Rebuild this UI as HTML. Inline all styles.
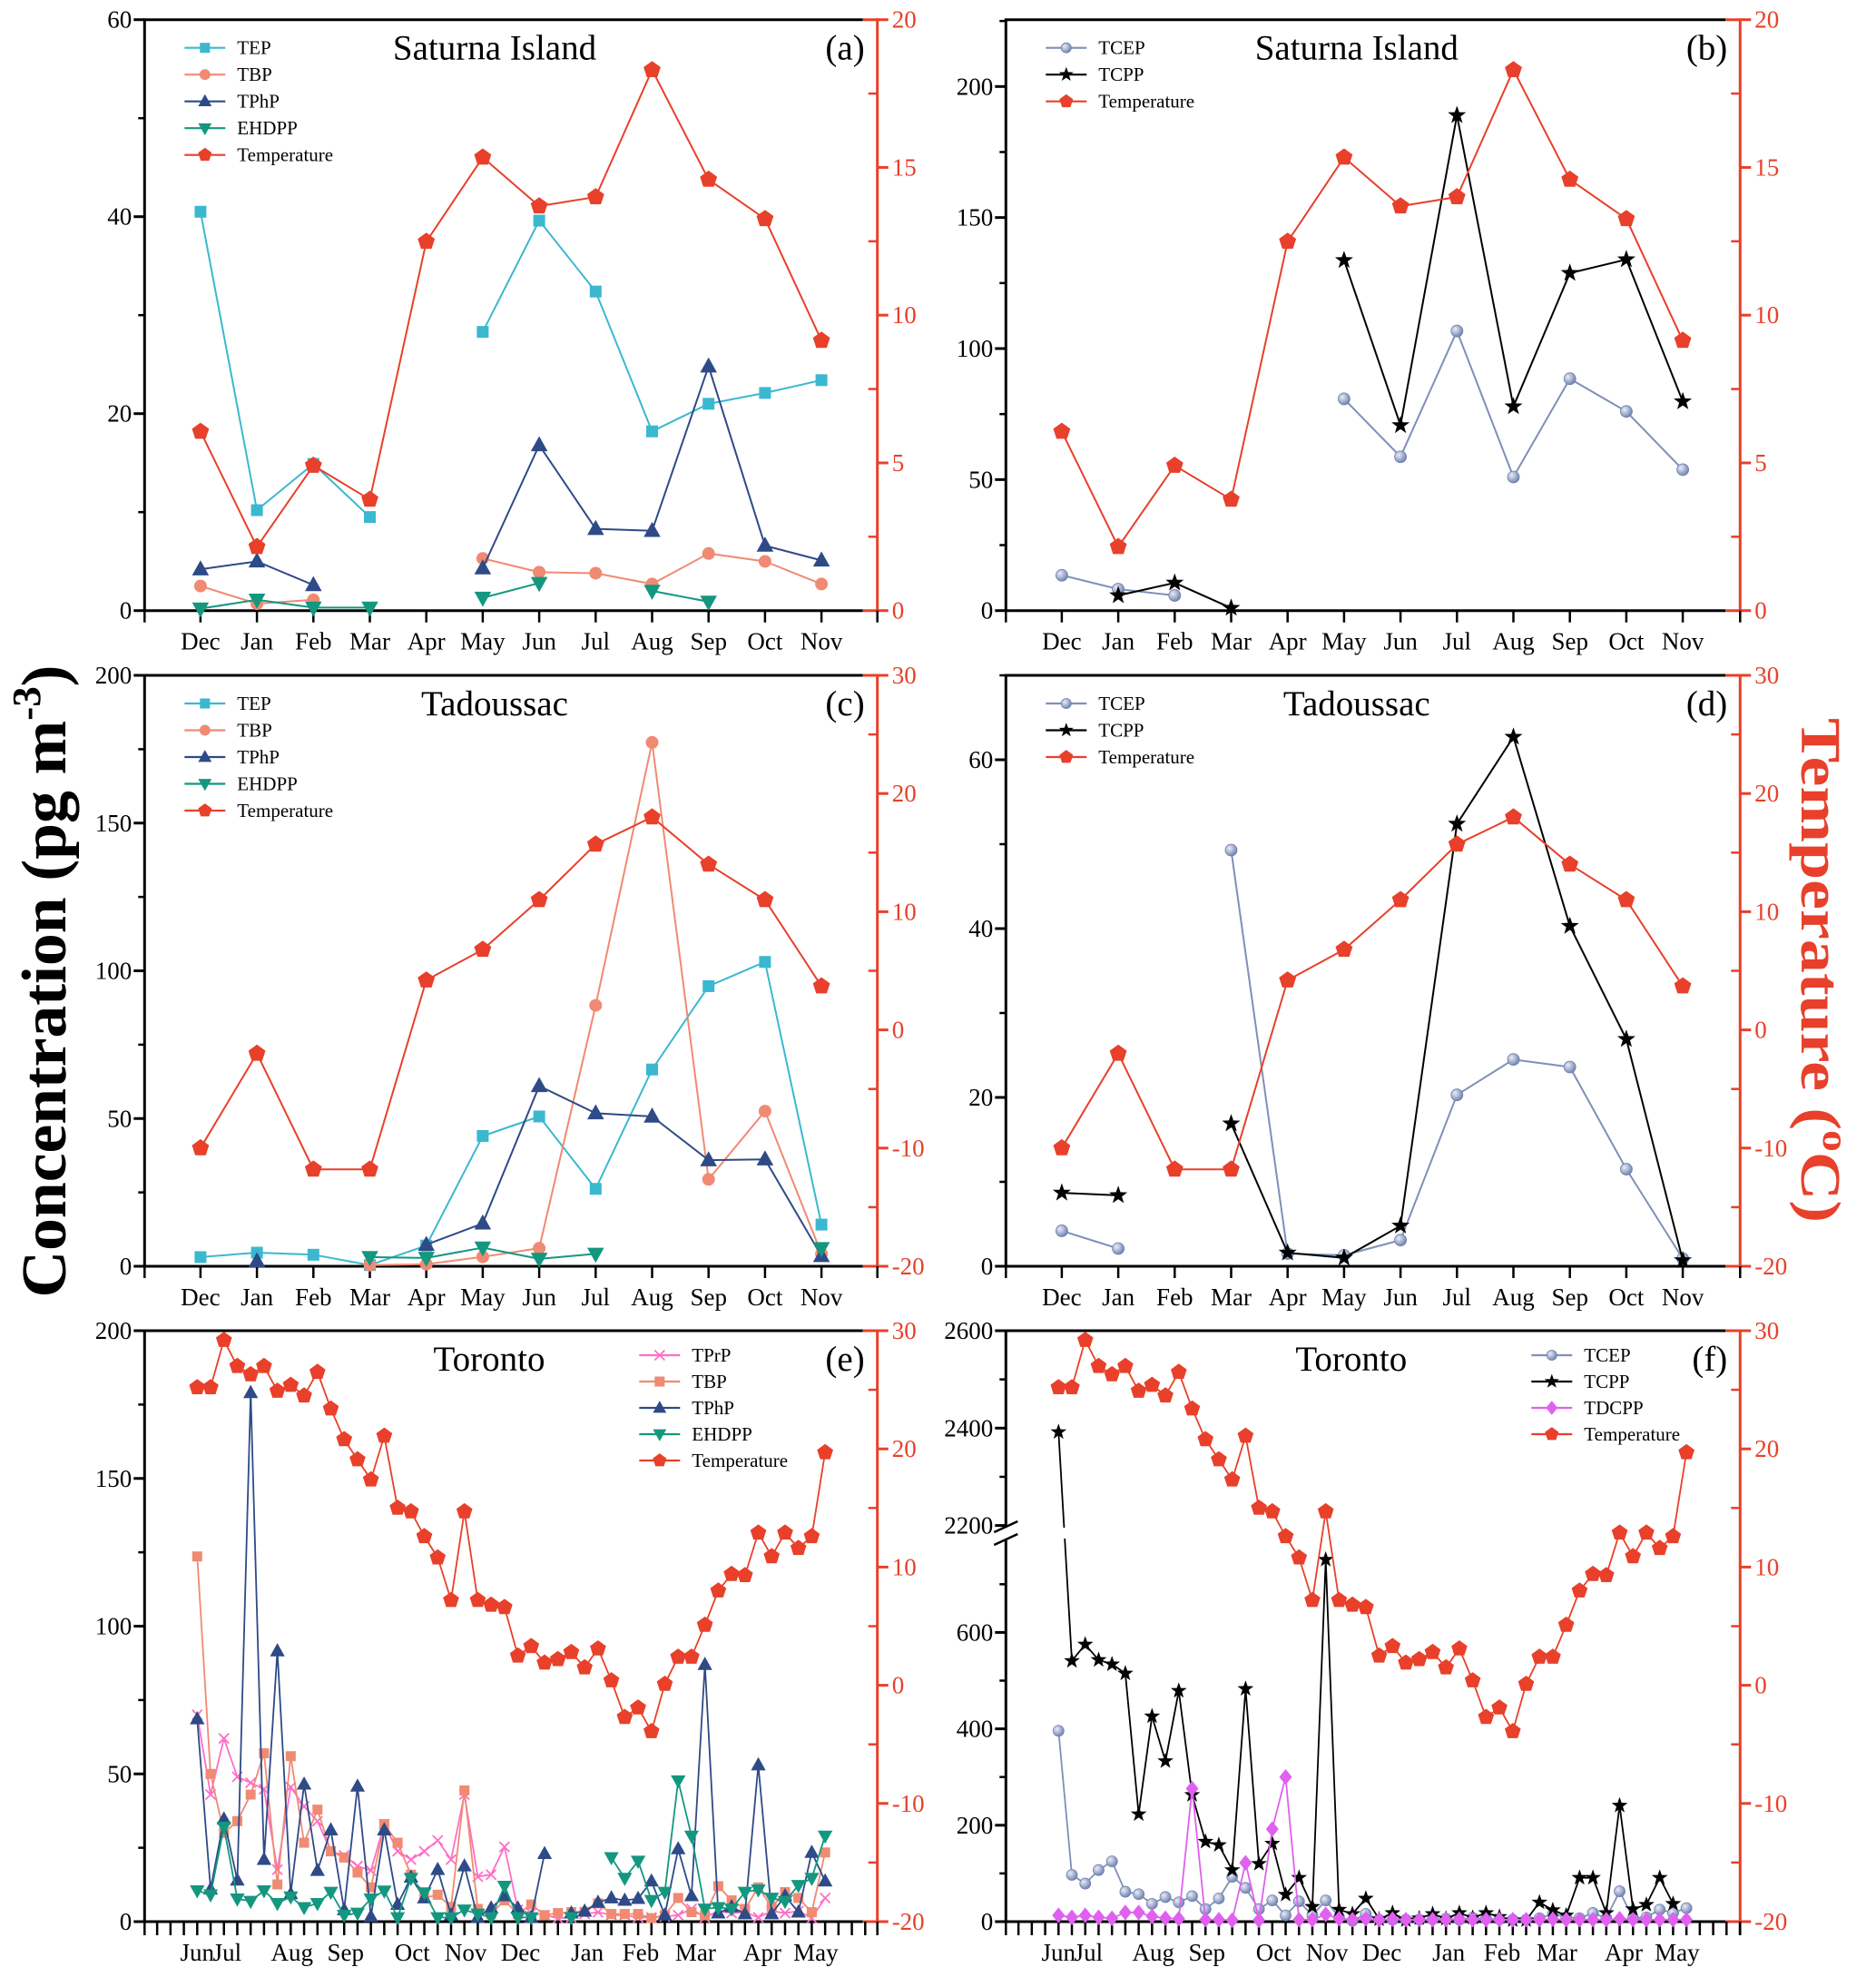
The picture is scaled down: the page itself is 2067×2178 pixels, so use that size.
<!DOCTYPE html>
<html><head><meta charset="utf-8"><style>
html,body{margin:0;padding:0;background:#fff;}
svg{display:block;}
</style></head>
<body>
<svg id="fig" xmlns="http://www.w3.org/2000/svg" width="2067" height="2178" viewBox="0 0 2067 2178">
<defs>
<radialGradient id="sph" cx="0.35" cy="0.35" r="0.7"><stop offset="0" stop-color="#e8ecf6"/><stop offset="1" stop-color="#6d7fae"/></radialGradient>
</defs>
<text x="0" y="0" transform="translate(72,1081) rotate(-90)" text-anchor="middle" font-family="Liberation Serif, serif" font-weight="bold" font-size="70" textLength="697" lengthAdjust="spacingAndGlyphs" fill="#000">Concentration (pg m<tspan font-size="44" dy="-28">-3</tspan><tspan dy="28">)</tspan></text>
<text x="0" y="0" transform="translate(1985,1069) rotate(90)" text-anchor="middle" font-family="Liberation Serif, serif" font-weight="bold" font-size="62" textLength="556" lengthAdjust="spacingAndGlyphs" fill="#e8402a">Temperature (<tspan font-size="40" dy="-24">o</tspan><tspan dy="24">C)</tspan></text>
</svg>
<script>
// ---------- data ----------
const monthCats = ["Dec","Jan","Feb","Mar","Apr","May","Jun","Jul","Aug","Sep","Oct","Nov"];
const satTEP   = [40.5,10.2,14.9,9.5,null,28.3,39.6,32.4,18.2,21.0,22.1,23.4];
const satTBP   = [2.5,0.7,1.1,null,null,5.3,3.9,3.8,2.7,5.8,5.0,2.7];
const satTPhP  = [4.2,5.0,2.6,null,null,4.3,16.8,8.3,8.1,24.8,6.6,5.1];
const satEHDPP = [0.2,1.1,0.3,0.3,null,1.3,2.8,null,2.0,0.9,null,null];
const satTemp  = [6.06,2.16,4.91,3.76,12.49,15.34,13.69,14.0,18.3,14.59,13.26,9.14];
const satTCEP  = [13.5,8.2,5.8,null,null,80.8,58.7,106.7,51.0,88.5,76.0,53.8];
const satTCPP  = [null,5.8,10.6,1.0,null,133.7,70.7,189.0,77.9,128.8,134.0,79.8];
const tadTEP   = [3.1,4.6,3.9,0.4,7.0,44.1,50.7,26.2,66.6,94.8,103.0,14.1];
const tadTBP   = [null,null,null,0.4,0.7,3.2,6.1,88.3,177.3,29.4,52.5,4.2];
const tadTPhP  = [null,1.7,null,null,7.3,14.5,61.0,51.8,50.7,35.9,36.2,3.5];
const tadEHDPP = [null,null,null,3.1,2.8,6.3,2.5,4.2,null,null,null,6.1];
const tadTemp  = [-10.0,-2.0,-11.8,-11.8,4.2,6.8,11.0,15.7,18.0,14.0,11.0,3.7];
const tadTCEP  = [4.2,2.1,null,49.3,1.5,1.3,3.1,20.3,24.5,23.6,11.5,0.9];
const tadTCPP  = [8.7,8.4,null,16.9,1.6,1.0,4.8,52.4,62.7,40.3,26.9,0.7];
const weekLabels = ["Jun","Jul","Aug","Sep","Oct","Nov","Dec","Jan","Feb","Mar","Apr","May"];
const weekLabelIdx = [0,2.25,7.1,11.1,16.1,20.1,24.2,29.2,33.2,37.3,42.3,46.3];
const torTemp = [25.2,25.2,29.2,27.0,26.3,27.0,24.9,25.4,24.5,26.5,23.4,20.8,19.1,17.4,21.1,15.0,14.7,12.6,10.8,7.2,14.7,7.2,6.8,6.6,2.5,3.3,1.9,2.2,2.8,1.5,3.1,0.4,-2.7,-1.9,-3.9,0.1,2.4,2.4,5.1,8.0,9.4,9.3,12.9,10.9,12.9,11.6,12.6,19.7];
const torTPrP = [70,43,62,49,47,44.8,17.6,45.5,39,34,23.8,22.4,18.8,17.3,33,23.8,21,23.8,27.5,21,43,15.2,15.9,25.3,4,2.9,2.2,1.2,1.4,2.6,3.2,2.2,2.2,1.4,1.4,1.7,2.2,4.3,1.4,3.6,2.9,3.2,1.4,3.6,2.9,3.6,1.2,8];
const torTBP = [123.6,50,30,34,43,57,12.6,56,26.7,37.9,23.8,21.7,16.6,11.6,33,26.7,15.9,8,9.1,5,44.4,4.3,2.6,7.2,2.6,5.8,2.2,2.9,3.2,3.3,6.2,2.6,2.6,2.6,1.2,2.2,8,3.2,2.2,12,7.2,4.3,11.6,5,10,8,3.2,23.4];
const torTPhP = [68.6,11,34.7,14,179,21,91.6,9.4,46.5,17.3,31,4,45.8,1.7,31,5.8,15,8,17.6,2.2,18.8,1.4,4.6,8.7,4.6,1.4,23,null,2.9,3.5,6.5,8,7.2,7.8,13.7,2.2,24.6,8.7,87,2.9,5,2.6,53,2.6,8.7,3.2,23.4,13.7];
const torEHDPP = [10.5,9.1,32,7.7,6.9,10.5,6.2,8.4,4.8,6.2,10,2.2,2.9,7.7,10.4,1.4,14.7,9.8,1.4,1.4,4,2.6,1.4,12,1.4,1.4,null,null,1.4,null,null,21.7,14.7,20.5,7.2,10,47.7,29,4.3,4.8,4.3,10,10.8,8,6.9,12.3,14.7,29];
const torTCEP = [396,97,79,107,125,62,57,37,51,40,53,26,48,93,70,26,44,13,42,13,44,9,2,16,4,4,4,4,5,6,4,8,6,5,4,4,7,16,9,7,18,7,63,7,9,25,18,28];
const torTCPP = [2392,541,575,543,534,515,223,426,333,479,263,166,159,107,483,120,162,56,91,31,751,25,16,48,5,18,3,7,16,6,18,8,18,10,3,3,40,24,13,91,91,18,241,26,35,91,37,null];
const torTDCPP = [13,9,13,9,7,19,19,11,7,6,276,4,4,3,122,3,192,300,4,4,15,6,4,6,4,5,4,4,4,4,5,4,4,4,4,4,4,5,4,4,4,4,6,4,4,4,4,4];

// ---------- helpers ----------
const NS = "http://www.w3.org/2000/svg";
const svg = document.getElementById("fig");
const FONT = "Liberation Serif, serif";
const RED = "#e8402a";
const C = {TEP:"#3bb8d0", TBP:"#f08a72", TPhP:"#2e4a87", EHDPP:"#14977f", TCEP:"#7f8fb8", TCPP:"#000", TDCPP:"#e060f0", TPrP:"#ff6ec7"};
function mk(tag, attrs, parent){
  const el = document.createElementNS(NS, tag);
  for (const k in attrs) el.setAttribute(k, attrs[k]);
  (parent||svg).appendChild(el);
  return el;
}
function txt(str, attrs, parent){ const t = mk("text", attrs, parent); t.textContent = str; return t; }

function marker(g, type, x, y, color, s){
  let el;
  if (type==="square") el = mk("rect",{x:x-s/2,y:y-s/2,width:s,height:s,fill:color},g);
  else if (type==="circle") el = mk("circle",{cx:x,cy:y,r:s/2,fill:color},g);
  else if (type==="sphere") el = mk("circle",{cx:x,cy:y,r:s/2,fill:"url(#sph)",stroke:"#6d7fae","stroke-width":0.8},g);
  else if (type==="triUp") el = mk("polygon",{points:`${x},${y-s*0.62} ${x-s*0.58},${y+s*0.42} ${x+s*0.58},${y+s*0.42}`,fill:color},g);
  else if (type==="triDown") el = mk("polygon",{points:`${x},${y+s*0.62} ${x-s*0.58},${y-s*0.42} ${x+s*0.58},${y-s*0.42}`,fill:color},g);
  else if (type==="diamond") el = mk("polygon",{points:`${x},${y-s*0.62} ${x+s*0.5},${y} ${x},${y+s*0.62} ${x-s*0.5},${y}`,fill:color},g);
  else if (type==="pent"||type==="star"){
    let pts=[]; const n = type==="pent"?5:10;
    for(let k=0;k<n;k++){ const a=-Math.PI/2+k*2*Math.PI/n; const r = type==="pent"? s*0.58 : (k%2===0? s*0.62 : s*0.25); pts.push((x+r*Math.cos(a)).toFixed(1)+","+(y+r*Math.sin(a)).toFixed(1)); }
    el = mk("polygon",{points:pts.join(" "),fill:color},g);
  } else if (type==="cross"){
    el = mk("path",{d:`M${x-s/2},${y-s/2}L${x+s/2},${y+s/2}M${x-s/2},${y+s/2}L${x+s/2},${y-s/2}`,stroke:color,"stroke-width":1.8,fill:"none"},g);
  }
  return el;
}

function series(g, xf, vals, yf, color, mtype, s, name, lw){
  const sg = mk("g",{},g);
  
  
  let seg=[];
  const flush=()=>{ if(seg.length>1){ const p = mk("polyline",{points:seg.join(" "),fill:"none",stroke:color,"stroke-width":lw||2,"stroke-linejoin":"round"},sg);
      
       } seg=[]; };
  vals.forEach((v,i)=>{ if(v===null){flush();return;} seg.push(xf(i).toFixed(1)+","+yf(v).toFixed(1)); });
  flush();
  vals.forEach((v,i)=>{ if(v===null) return; const m = marker(sg, mtype, xf(i), yf(v), color, s);
    
     });
}

function legend(g, x, y0, dy, items){
  items.forEach((it,k)=>{
    const y = y0 + k*dy;
    const lg = mk("g",{},g);
    
    
    mk("line",{x1:x,y1:y,x2:x+45,y2:y,stroke:it.color,"stroke-width":2.2},lg);
    marker(lg, it.m, x+22.5, y, it.color, (it.s||15)*0.85);
    txt(it.name,{x:x+58,y:y+7,"font-family":FONT,"font-size":21,fill:"#000"},lg);
  });
}

function frame(g, L,R,T,B, opt){
  const ax = mk("g",{},g);
  
  
  if (opt.breakY){
    mk("line",{x1:L,y1:T,x2:L,y2:opt.breakY[0],stroke:"#000","stroke-width":3},ax);
    mk("line",{x1:L,y1:opt.breakY[1],x2:L,y2:B,stroke:"#000","stroke-width":3},ax);
  } else mk("line",{x1:L,y1:T,x2:L,y2:B,stroke:"#000","stroke-width":3},ax);
  mk("line",{x1:L-1.5,y1:B,x2:R-16,y2:B,stroke:"#000","stroke-width":3},ax);
  mk("line",{x1:R-16,y1:B,x2:R,y2:B,stroke:RED,"stroke-width":3},ax);
  mk("line",{x1:L-1.5,y1:T,x2:R-16,y2:T,stroke:"#000","stroke-width":3},ax);
  mk("line",{x1:R-16,y1:T,x2:R,y2:T,stroke:RED,"stroke-width":3},ax);
  mk("line",{x1:R,y1:T-1.5,x2:R,y2:B+1.5,stroke:RED,"stroke-width":3},ax);
  opt.lMajor.forEach(v=>{ const y=opt.yL(v); mk("line",{x1:L-12,y1:y,x2:L,y2:y,stroke:"#000","stroke-width":3},ax);
    const t = txt(String(v),{x:L-14,y:y+9,"text-anchor":"end","font-family":FONT,"font-size":27,fill:"#000"},ax);
    
     });
  opt.lMinor.forEach(v=>{ const y=opt.yL(v); mk("line",{x1:L-7,y1:y,x2:L,y2:y,stroke:"#000","stroke-width":2.5},ax); });
  opt.rMajor.forEach(v=>{ const y=opt.yR(v); mk("line",{x1:R,y1:y,x2:R+12,y2:y,stroke:RED,"stroke-width":3},ax);
    const t = txt(String(v),{x:R+16,y:y+9,"font-family":FONT,"font-size":27,fill:RED},ax);
    
     });
  opt.rMinor.forEach(v=>{ const y=opt.yR(v); mk("line",{x1:R-10,y1:y,x2:R,y2:y,stroke:RED,"stroke-width":2.5},ax); });
  opt.xTicks.forEach(x=>{ mk("line",{x1:x,y1:B,x2:x,y2:B+opt.xTickLen,stroke:"#000","stroke-width":2.5},ax); });
  opt.xLabels.forEach(o=>{ const t = txt(o.t,{x:o.x,y:B+43,"text-anchor":"middle","font-family":FONT,"font-size":27,fill:"#000"},ax);
    
     });
}

function titles(g, cx, L, R, T, title, tag){
  const t1 = txt(title,{x:cx,y:T+44,"text-anchor":"middle","font-family":FONT,"font-size":39,fill:"#000"},g);
  
  
  const t2 = txt(tag,{x:R-14,y:T+44,"text-anchor":"end","font-family":FONT,"font-size":39,fill:"#000"},g);
  
  
}

const XL = 159.3, XR = 966.7, XL2 = 1108.3, XR2 = 1917.3;
const ROWS = [[21.7,672.7],[744,1395],[1466,2117]];

function monthlyPanel(name, L, R, T, B, lMax, lMajor, lMinor, rMin, rMax, rMajor, rMinor, title, tag, list, legItems){
  const g = mk("g",{});
  
  
  const xf = i => L + 61.6 + i*62.2;
  const yL = v => B - v/lMax*(B-T);
  const yR = v => B - (v-rMin)/(rMax-rMin)*(B-T);
  const xt=[L]; monthCats.forEach((c,i)=>xt.push(xf(i))); xt.push(R);
  frame(g,L,R,T,B,{yL,yR,lMajor,lMinor,rMajor,rMinor,xTicks:xt,xTickLen:13,xLabels:monthCats.map((c,i)=>({x:xf(i),t:c}))});
  list.forEach(s=>series(g,xf,s.v,s.right?yR:yL,s.c,s.m,s.s,s.n,2));
  titles(g,(L+R)/2-18,L,R,T,title,tag);
  legend(g, L+44, T+31, 29.5, legItems);
}

const legA = [{name:"TEP",color:C.TEP,m:"square",s:13},{name:"TBP",color:C.TBP,m:"circle",s:14},{name:"TPhP",color:C.TPhP,m:"triUp",s:15},{name:"EHDPP",color:C.EHDPP,m:"triDown",s:15},{name:"Temperature",color:RED,m:"pent",s:16}];
const legB = [{name:"TCEP",color:C.TCEP,m:"sphere",s:13},{name:"TCPP",color:"#000",m:"star",s:16},{name:"Temperature",color:RED,m:"pent",s:16}];

monthlyPanel("panel-a-saturna-island",XL,XR,ROWS[0][0],ROWS[0][1],60,[0,20,40,60],[10,30,50],0,20,[0,5,10,15,20],[2.5,7.5,12.5,17.5],"Saturna Island","(a)",
 [{v:satTEP,c:C.TEP,m:"square",s:13,n:"tep"},{v:satTBP,c:C.TBP,m:"circle",s:14,n:"tbp"},{v:satTPhP,c:C.TPhP,m:"triUp",s:16,n:"tphp"},{v:satEHDPP,c:C.EHDPP,m:"triDown",s:16,n:"ehdpp"},{v:satTemp,c:RED,m:"pent",s:17,n:"temperature",right:true}],legA);
monthlyPanel("panel-b-saturna-island",XL2,XR2,ROWS[0][0],ROWS[0][1],225.5,[0,50,100,150,200],[25,75,125,175,225],0,20,[0,5,10,15,20],[2.5,7.5,12.5,17.5],"Saturna Island","(b)",
 [{v:satTCEP,c:C.TCEP,m:"sphere",s:13,n:"tcep"},{v:satTCPP,c:"#000",m:"star",s:17,n:"tcpp"},{v:satTemp,c:RED,m:"pent",s:17,n:"temperature",right:true}],legB);
monthlyPanel("panel-c-tadoussac",XL,XR,ROWS[1][0],ROWS[1][1],200,[0,50,100,150,200],[25,75,125,175],-20,30,[-20,-10,0,10,20,30],[-15,-5,5,15,25],"Tadoussac","(c)",
 [{v:tadTEP,c:C.TEP,m:"square",s:13,n:"tep"},{v:tadTBP,c:C.TBP,m:"circle",s:14,n:"tbp"},{v:tadTPhP,c:C.TPhP,m:"triUp",s:16,n:"tphp"},{v:tadEHDPP,c:C.EHDPP,m:"triDown",s:16,n:"ehdpp"},{v:tadTemp,c:RED,m:"pent",s:17,n:"temperature",right:true}],legA);
monthlyPanel("panel-d-tadoussac",XL2,XR2,ROWS[1][0],ROWS[1][1],70,[0,20,40,60],[10,30,50,70],-20,30,[-20,-10,0,10,20,30],[-15,-5,5,15,25],"Tadoussac","(d)",
 [{v:tadTCEP,c:C.TCEP,m:"sphere",s:13,n:"tcep"},{v:tadTCPP,c:"#000",m:"star",s:17,n:"tcpp"},{v:tadTemp,c:RED,m:"pent",s:17,n:"temperature",right:true}],legB);

function weeklyPanel(name, L, R, T, B, yL, lMajor, lMinor, title, tag, list, legItems, breakY){
  const g = mk("g",{});
  
  
  const xf = i => L + 58 + i*14.72;
  const yR = v => B - (v+20)/50*(B-T);
  const xt=[]; for(let k=-4;k<=52;k++){ const x=xf(k); if(x>=L-0.5&&x<=R+0.5) xt.push(x); } xt.push(L); xt.push(R);
  frame(g,L,R,T,B,{yL,yR,lMajor,lMinor,rMajor:[-20,-10,0,10,20,30],rMinor:[-15,-5,5,15,25],xTicks:xt,xTickLen:15,xLabels:weekLabels.map((c,k)=>({x:xf(weekLabelIdx[k]),t:c})),breakY});
  list.forEach(s=>series(g,xf,s.v,s.right?yR:yL,s.c,s.m,s.s,s.n,1.8));
  titles(g,(L+R)/2-24,L,R,T,title,tag);
  legend(g, L+(name.indexOf("-e-")>0?545:579), T+27, 29, legItems);
  return {g,xf};
}
const E = ROWS[2];
weeklyPanel("panel-e-toronto",XL,XR,E[0],E[1],v=>E[1]-v/200*(E[1]-E[0]),[0,50,100,150,200],[25,75,125,175],"Toronto","(e)",
 [{v:torTPrP,c:C.TPrP,m:"cross",s:11,n:"tprp"},{v:torTBP,c:C.TBP,m:"square",s:11,n:"tbp"},{v:torTPhP,c:C.TPhP,m:"triUp",s:14,n:"tphp"},{v:torEHDPP,c:C.EHDPP,m:"triDown",s:14,n:"ehdpp"},{v:torTemp,c:RED,m:"pent",s:16,n:"temperature",right:true}],
 [{name:"TPrP",color:C.TPrP,m:"cross",s:13},{name:"TBP",color:C.TBP,m:"square",s:13},{name:"TPhP",color:C.TPhP,m:"triUp",s:15},{name:"EHDPP",color:C.EHDPP,m:"triDown",s:15},{name:"Temperature",color:RED,m:"pent",s:16}]);

const yF = v => v>=2000 ? 1680.6 + (2200-v)*0.5365 : E[1] - v*0.531;
const pf = weeklyPanel("panel-f-toronto",XL2,XR2,E[0],E[1],yF,[0,200,400,600,2200,2400,2600],[100,300,500,700,2300,2500],"Toronto","(f)",
 [{v:torTCEP,c:C.TCEP,m:"sphere",s:12,n:"tcep"},{v:torTCPP,c:"#000",m:"star",s:15,n:"tcpp"},{v:torTDCPP,c:C.TDCPP,m:"diamond",s:14,n:"tdcpp"},{v:torTemp,c:RED,m:"pent",s:16,n:"temperature",right:true}],
 [{name:"TCEP",color:C.TCEP,m:"sphere",s:13},{name:"TCPP",color:"#000",m:"star",s:16},{name:"TDCPP",color:C.TDCPP,m:"diamond",s:15},{name:"Temperature",color:RED,m:"pent",s:16}],
 [1681,1697]);
const brk = mk("g",{},pf.g);


mk("rect",{x:XL2+40,y:1683,width:40,height:12,fill:"#fff"},brk);
mk("line",{x1:XL2-13,y1:1688,x2:XL2+13,y2:1676,stroke:"#000","stroke-width":2.5},brk);
mk("line",{x1:XL2-13,y1:1702,x2:XL2+13,y2:1690,stroke:"#000","stroke-width":2.5},brk);
</script>
</body></html>
